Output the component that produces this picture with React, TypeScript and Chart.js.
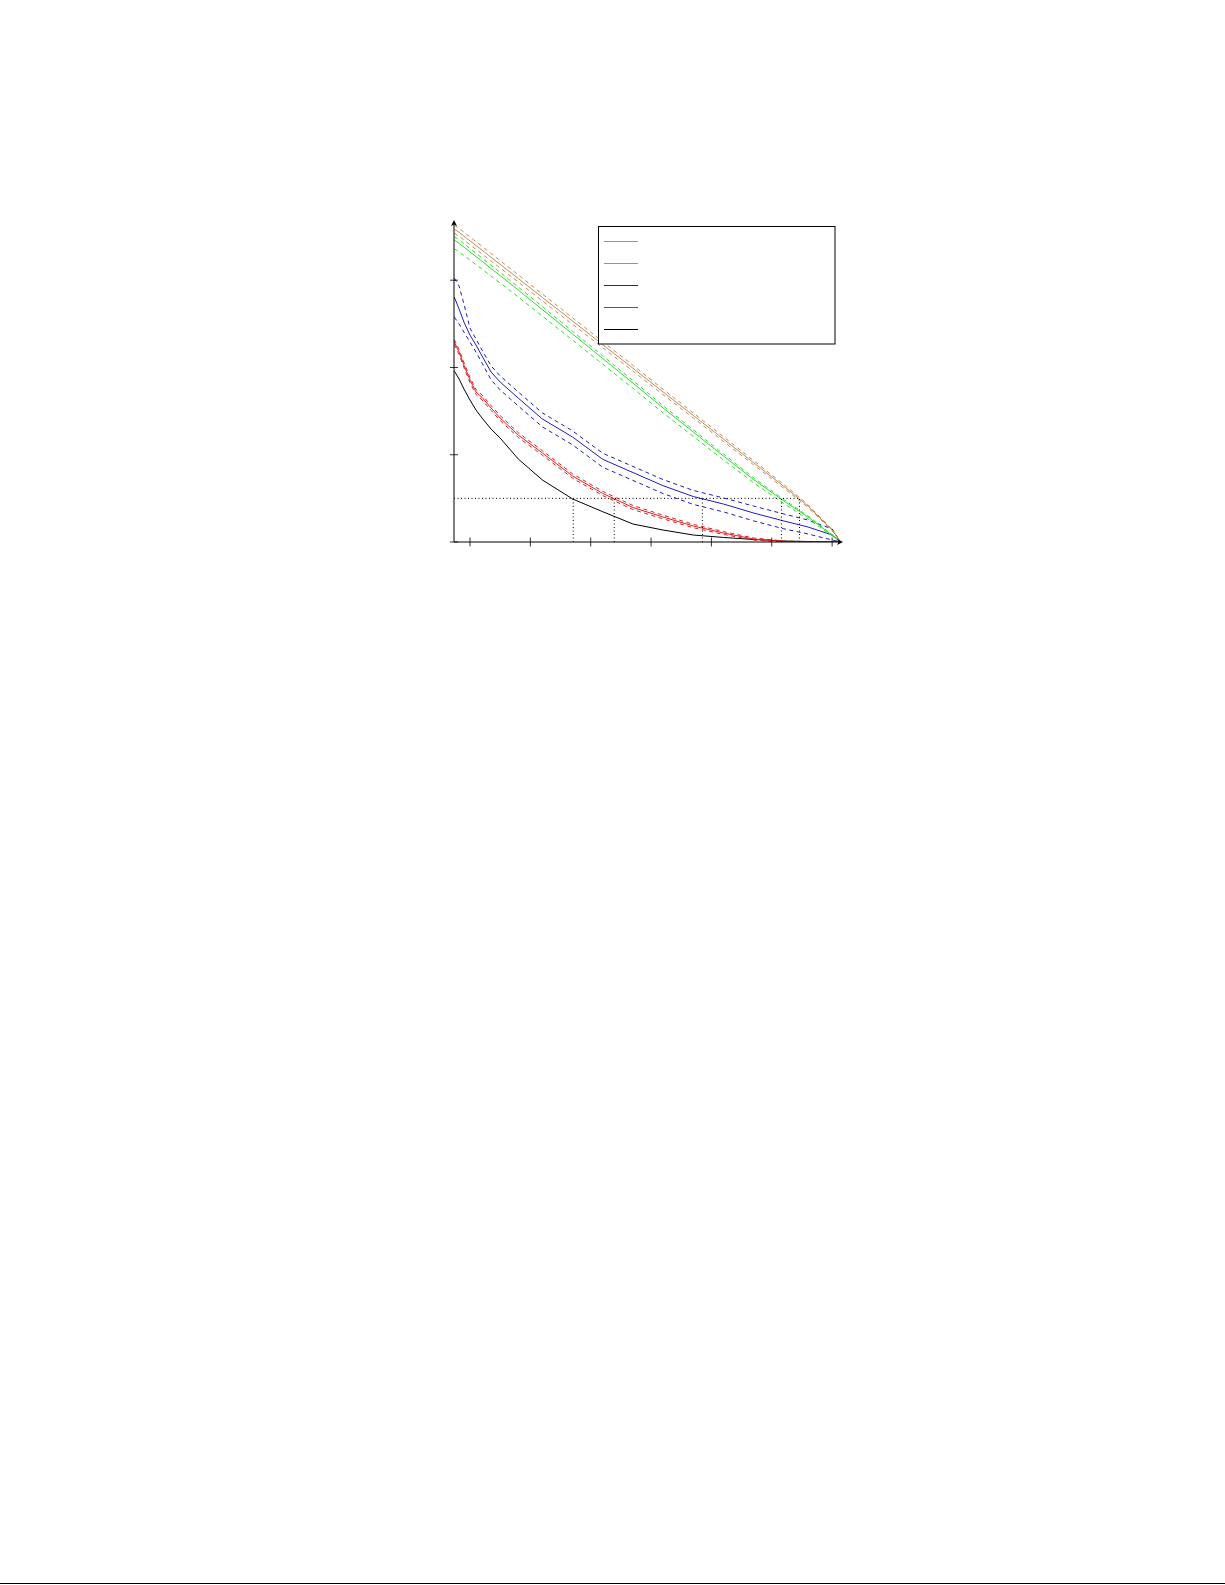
import React, { useEffect, useRef } from 'react'
import Chart from 'chart.js/auto'

// shared x positions of every curve (axis units, tick marks at 1..7)
const X_VALUES = [0.74, 0.82, 0.9, 1.0, 1.1, 1.2, 1.35, 1.5, 1.8, 2.2, 2.7, 3.2, 3.7, 4.2, 4.7, 5.2, 5.7, 6.2, 6.6, 7.0, 7.14]

const BROWN = [3.585, 3.549, 3.505, 3.451, 3.397, 3.345, 3.262, 3.182, 3.020, 2.802, 2.532, 2.261, 1.991, 1.719, 1.450, 1.179, 0.908, 0.638, 0.412, 0.137, 0]
const BROWN_HI = [3.631, 3.595, 3.550, 3.496, 3.441, 3.389, 3.305, 3.224, 3.061, 2.841, 2.569, 2.296, 2.024, 1.750, 1.479, 1.206, 0.932, 0.659, 0.428, 0.144, 0]
const BROWN_LO = [3.539, 3.503, 3.460, 3.406, 3.353, 3.301, 3.219, 3.140, 2.979, 2.763, 2.495, 2.226, 1.958, 1.688, 1.421, 1.152, 0.884, 0.617, 0.396, 0.130, 0]

const GREEN = [3.459, 3.423, 3.379, 3.324, 3.270, 3.217, 3.133, 3.053, 2.887, 2.663, 2.383, 2.102, 1.821, 1.535, 1.260, 0.985, 0.716, 0.470, 0.286, 0.080, 0]
const GREEN_HI = [3.499, 3.463, 3.418, 3.363, 3.308, 3.255, 3.170, 3.089, 2.922, 2.697, 2.415, 2.132, 1.850, 1.562, 1.285, 1.008, 0.736, 0.486, 0.298, 0.085, 0]
const GREEN_LO = [3.359, 3.325, 3.283, 3.230, 3.178, 3.127, 3.046, 2.969, 2.807, 2.588, 2.313, 2.037, 1.761, 1.480, 1.210, 0.940, 0.678, 0.440, 0.264, 0.070, 0]

const BLUE = [2.806, 2.669, 2.520, 2.371, 2.257, 2.131, 1.947, 1.833, 1.649, 1.409, 1.203, 0.947, 0.796, 0.645, 0.521, 0.435, 0.332, 0.241, 0.172, 0.080, 0]
const BLUE_HI = [3.024, 2.932, 2.726, 2.451, 2.325, 2.199, 2.017, 1.903, 1.719, 1.479, 1.273, 1.017, 0.866, 0.715, 0.591, 0.505, 0.412, 0.321, 0.252, 0.149, 0]
const BLUE_LO = [2.577, 2.497, 2.405, 2.291, 2.176, 2.050, 1.857, 1.743, 1.559, 1.319, 1.113, 0.857, 0.706, 0.555, 0.431, 0.345, 0.242, 0.151, 0.092, 0.023, 0]

const RED = [2.291, 2.176, 2.027, 1.856, 1.718, 1.656, 1.535, 1.420, 1.226, 1.020, 0.756, 0.556, 0.395, 0.286, 0.183, 0.103, 0.034, 0.006, 0, 0, 0]
const RED_HI = [2.320, 2.205, 2.056, 1.885, 1.747, 1.684, 1.563, 1.448, 1.253, 1.046, 0.781, 0.580, 0.418, 0.307, 0.202, 0.119, 0.046, 0.012, 0.003, 0, 0]
const RED_LO = [2.262, 2.147, 1.998, 1.827, 1.689, 1.628, 1.507, 1.392, 1.199, 0.994, 0.731, 0.532, 0.372, 0.265, 0.164, 0.087, 0.022, 0, 0, 0, 0]

const BLACK = [1.959, 1.867, 1.753, 1.627, 1.512, 1.420, 1.294, 1.191, 0.951, 0.710, 0.493, 0.347, 0.206, 0.137, 0.080, 0.052, 0.029, 0.011, 0.006, 0.002, 0]

const X_TICKS = [1, 2, 3, 4, 5, 6, 7]
const Y_TICKS = [0, 1, 2, 3]
const X_MIN = 0.735
const X_MAX = 7.18
const Y_MAX = 3.69

// dotted guide: level and where each curve crosses it
const THRESHOLD = 0.5
const CROSSINGS = [2.71, 3.39, 4.85, 6.16, 6.46]

const SERIES = [
  { color: '#c08c58', mid: BROWN, hi: BROWN_HI, lo: BROWN_LO },
  { color: '#30dc30', mid: GREEN, hi: GREEN_HI, lo: GREEN_LO },
  { color: '#1c1cbe', mid: BLUE, hi: BLUE_HI, lo: BLUE_LO },
  { color: '#dd2020', mid: RED, hi: RED_HI, lo: RED_LO },
  { color: '#000000', mid: BLACK, hi: null, lo: null },
]

const toPoints = (ys: number[]) => ys.map((y, i) => ({ x: X_VALUES[i], y }))

const axesPlugin = {
  id: 'axesPlugin',
  afterDatasetsDraw(chart: any) {
    const { ctx } = chart
    const xs = chart.scales.x
    const ys = chart.scales.y
    const x0 = xs.getPixelForValue(X_MIN)
    const x1 = xs.getPixelForValue(X_MAX)
    const y0 = ys.getPixelForValue(0)
    const y1 = ys.getPixelForValue(Y_MAX)
    ctx.save()
    ctx.strokeStyle = '#000'
    ctx.fillStyle = '#000'
    ctx.lineWidth = 1
    ctx.beginPath()
    ctx.moveTo(x0, y0)
    ctx.lineTo(x1 - 3, y0)
    ctx.moveTo(x0, y0)
    ctx.lineTo(x0, y1 + 3)
    ctx.stroke()

    ctx.lineWidth = 0.8
    ctx.beginPath()
    X_TICKS.forEach((v) => {
      const px = xs.getPixelForValue(v)
      ctx.moveTo(px, y0 - 4.5)
      ctx.lineTo(px, y0 + 4.5)
    })
    Y_TICKS.forEach((v) => {
      const py = ys.getPixelForValue(v)
      ctx.moveTo(x0 - 4, py)
      ctx.lineTo(x0 + 4, py)
    })
    ctx.stroke()

    // arrow heads
    ctx.beginPath()
    ctx.moveTo(x1, y0)
    ctx.lineTo(x1 - 6, y0 - 3)
    ctx.lineTo(x1 - 4.5, y0)
    ctx.lineTo(x1 - 6, y0 + 3)
    ctx.closePath()
    ctx.fill()
    ctx.beginPath()
    ctx.moveTo(x0, y1)
    ctx.lineTo(x0 - 3, y1 + 6)
    ctx.lineTo(x0, y1 + 4.5)
    ctx.lineTo(x0 + 3, y1 + 6)
    ctx.closePath()
    ctx.fill()

    // legend frame with line samples (no labels in the figure)
    ctx.fillStyle = '#fff'
    ctx.fillRect(598.5, 226.5, 236.5, 117.5)
    ctx.lineWidth = 1
    ctx.strokeRect(598.5, 226.5, 236.5, 117.5)
    SERIES.forEach((s, i) => {
      const ly = 241.5 + i * 22
      ctx.strokeStyle = s.color
      ctx.beginPath()
      ctx.moveTo(604, ly)
      ctx.lineTo(638, ly)
      ctx.stroke()
    })
    ctx.restore()
  },
}

const App: React.FC = () => {
  const canvasRef = useRef<HTMLCanvasElement>(null)

  useEffect(() => {
    if (!canvasRef.current) return

    const dotted = {
      borderColor: '#000',
      borderWidth: 1,
      borderDash: [1, 2.5],
      pointRadius: 0,
      fill: false,
    }
    const datasets: any[] = [
      { ...dotted, data: [{ x: X_MIN, y: THRESHOLD }, { x: CROSSINGS[CROSSINGS.length - 1], y: THRESHOLD }] },
      ...CROSSINGS.map((cx) => ({ ...dotted, data: [{ x: cx, y: 0 }, { x: cx, y: THRESHOLD }] })),
    ]

    SERIES.forEach((s) => {
      ;[s.hi, s.lo].forEach((band) => {
        if (!band) return
        datasets.push({
          data: toPoints(band),
          borderColor: s.color,
          borderWidth: 1,
          borderDash: [4, 3.5],
          pointRadius: 0,
          tension: 0,
          fill: false,
        })
      })
      datasets.push({
        data: toPoints(s.mid),
        borderColor: s.color,
        borderWidth: 1,
        pointRadius: 0,
        tension: 0,
        fill: false,
      })
    })

    const chart = new Chart(canvasRef.current, {
      type: 'line',
      data: { datasets },
      options: {
        responsive: false,
        animation: false,
        layout: { padding: { left: 454, top: 220, right: 382, bottom: 58 } },
        plugins: { legend: { display: false }, title: { display: false }, tooltip: { enabled: false } },
        scales: {
          x: { type: 'linear', min: X_MIN, max: X_MAX, display: false },
          y: { type: 'linear', min: 0, max: Y_MAX, display: false },
        },
      },
      plugins: [axesPlugin],
    })

    return () => chart.destroy()
  }, [])

  return (
    <>
      <div style={{ position: 'absolute', left: 0, top: 0, width: 1225, height: 600 }}>
        <canvas ref={canvasRef} width={1225} height={600} style={{ width: 1225, height: 600 }} />
      </div>
      <div style={{ position: 'absolute', left: 0, top: 1583, width: 1225, height: 1, background: '#000' }} />
    </>
  )
}

export default App
